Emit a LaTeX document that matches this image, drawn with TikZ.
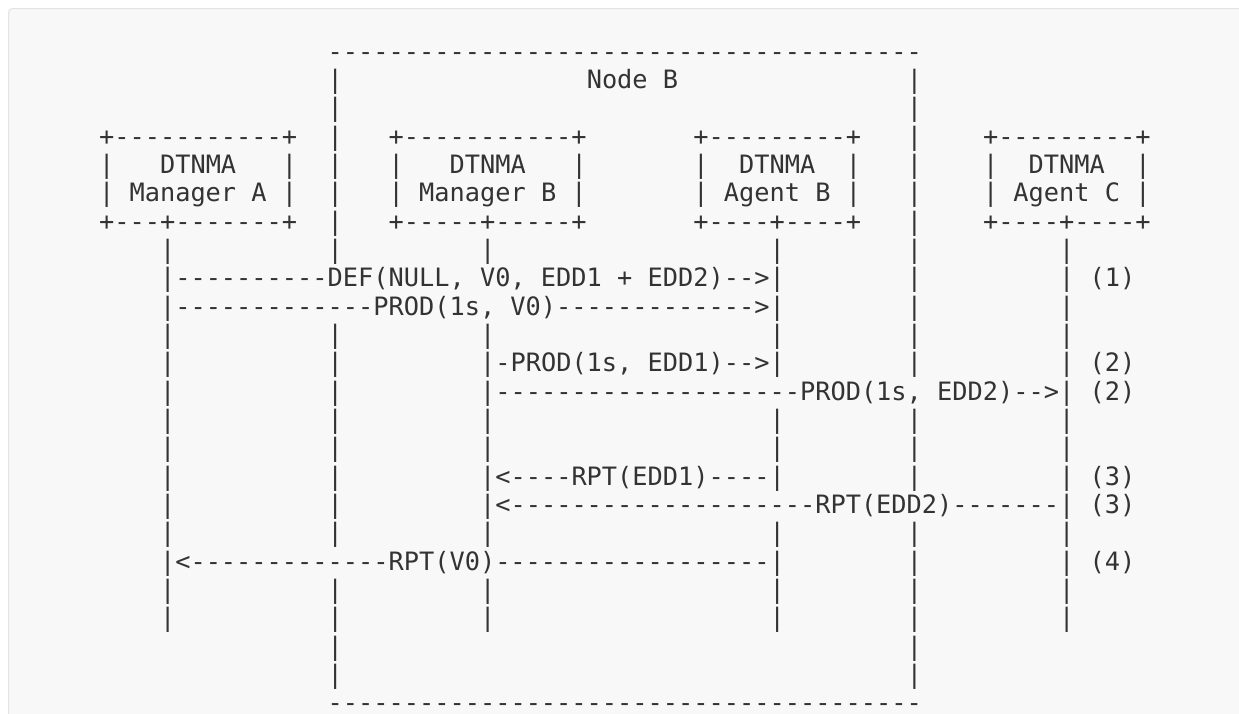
\documentclass[tikz,border=0pt]{standalone}
\usepackage{fontspec}
\setmonofont{DejaVu Sans Mono}
\definecolor{ink}{HTML}{333333}
\definecolor{panel}{HTML}{F8F8F8}
\definecolor{panelrule}{HTML}{E4E4E4}
\tikzset{
  asciitext/.style={anchor=base west, inner sep=0pt, outer sep=0pt, text=ink,
    font=\ttfamily\fontsize{25.31pt}{28pt}\selectfont},
}
% place text at character column #2 and text row #3
\newcommand\asc[4]{\node[asciitext] (#1) at ({38.12+15.24*#2},{60.3+28.33*#3}) {#4};}
\begin{document}
\begin{tikzpicture}[x=1pt,y=-1pt]
\useasboundingbox (0,0) rectangle (1239,713);
\clip (0,0) rectangle (1239,713);
\fill[white] (0,0) rectangle (1239,713);
\filldraw[fill=panel, draw=panelrule, line width=1pt, rounded corners=4pt] (8.5,8.5) rectangle (1300,780);

% Node B frame
\asc{topdash}{19}{0}{---------------------------------------}
\asc{nodeb}{36}{1}{Node B}
\asc{botdash}{19}{23}{---------------------------------------}

% boxes
\asc{ma3}{4}{3}{+-----------+}
\asc{ma4l}{4}{4}{|}\asc{ma4t}{8}{4}{DTNMA}\asc{ma4r}{16}{4}{|}
\asc{ma5}{4}{5}{| Manager A |}
\asc{ma6}{4}{6}{+---+-------+}

\asc{mb3}{23}{3}{+-----------+}
\asc{mb4l}{23}{4}{|}\asc{mb4t}{27}{4}{DTNMA}\asc{mb4r}{35}{4}{|}
\asc{mb5}{23}{5}{| Manager B |}
\asc{mb6}{23}{6}{+-----+-----+}

\asc{ab3}{43}{3}{+---------+}
\asc{ab4l}{43}{4}{|}\asc{ab4t}{46}{4}{DTNMA}\asc{ab4r}{53}{4}{|}
\asc{ab5}{43}{5}{| Agent B |}
\asc{ab6}{43}{6}{+----+----+}

\asc{ac3}{62}{3}{+---------+}
\asc{ac4l}{62}{4}{|}\asc{ac4t}{65}{4}{DTNMA}\asc{ac4r}{72}{4}{|}
\asc{ac5}{62}{5}{| Agent C |}
\asc{ac6}{62}{6}{+----+----+}

% lifelines and frame sides
\foreach \r in {7,...,20} {\asc{la\r}{8}{\r}{|}}
\foreach \r in {1,...,7,10,11,12,13,14,15,16,17,19,20,21,22} {\asc{nl\r}{19}{\r}{|}}
\foreach \r in {7,10,11,12,13,14,15,16,17,19,20} {\asc{lm\r}{29}{\r}{|}}
\foreach \r in {7,8,9,10,11,13,14,15,17,18,19,20} {\asc{lb\r}{48}{\r}{|}}
\foreach \r in {1,2,3,4,5,6,7,8,9,10,11,13,14,15,17,18,19,20,21,22} {\asc{nr\r}{57}{\r}{|}}
\foreach \r in {7,...,20} {\asc{lc\r}{67}{\r}{|}}

% messages
\asc{m1}{9}{8}{----------DEF(NULL, V0, EDD1 + EDD2)-->}
\asc{m2}{9}{9}{-------------PROD(1s, V0)------------->}
\asc{m3}{30}{11}{-PROD(1s, EDD1)-->}
\asc{m4}{30}{12}{--------------------PROD(1s, EDD2)-->}
\asc{m5}{30}{15}{<----RPT(EDD1)----}
\asc{m6}{30}{16}{<--------------------RPT(EDD2)-------}
\asc{m7}{9}{18}{<-------------RPT(V0)------------------}

% step labels
\asc{s1}{69}{8}{(1)}
\asc{s2a}{69}{11}{(2)}
\asc{s2b}{69}{12}{(2)}
\asc{s3a}{69}{15}{(3)}
\asc{s3b}{69}{16}{(3)}
\asc{s4}{69}{18}{(4)}
\end{tikzpicture}
\end{document}
